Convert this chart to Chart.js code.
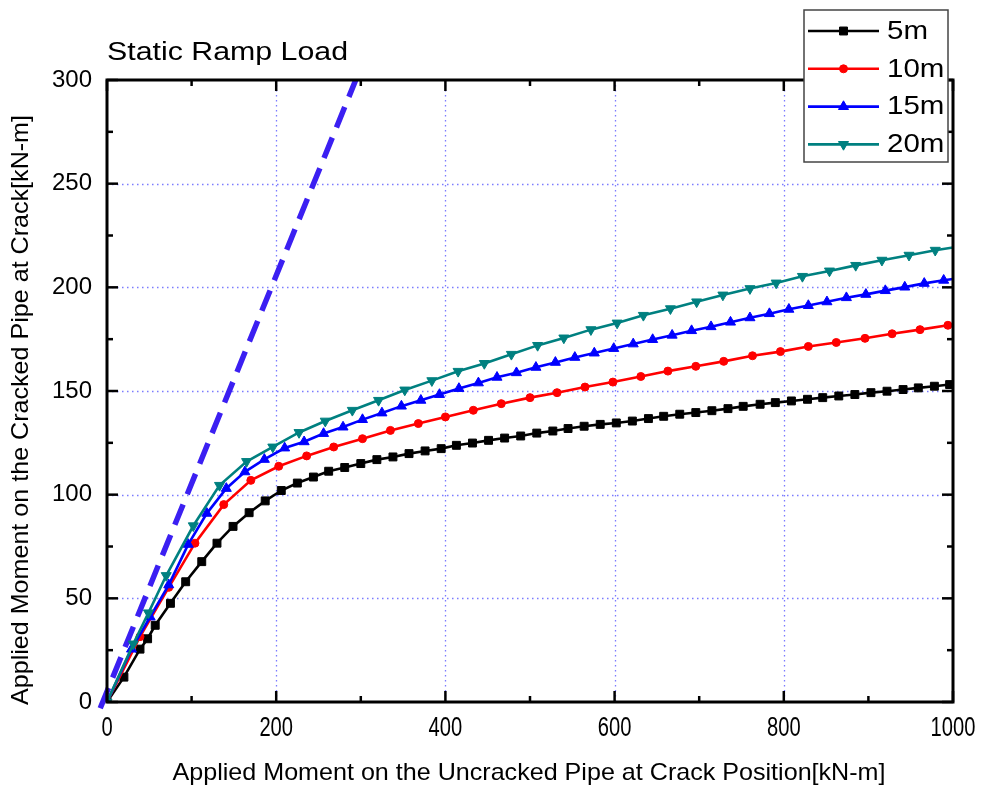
<!DOCTYPE html>
<html>
<head>
<meta charset="utf-8">
<script src="https://cdn.jsdelivr.net/npm/chart.js@4.4.1/dist/chart.umd.min.js"></script>
<style>
  html, body { margin: 0; padding: 0; background: #fff; }
  canvas { display: block; }
</style>
</head>
<body>
<canvas id="chart" width="987" height="788"></canvas>
<script>
// crack depth series, applied moment (uncracked) vs moment at crack
const seriesNames = ['5m', '10m', '15m', '20m'];

const x5 = [0, 20, 39, 48, 57, 75, 93, 112, 130, 149, 168, 187, 206, 225, 244, 262, 281, 300, 319, 338,
  357, 376, 395, 413, 432, 451, 470, 489, 508, 527, 545, 564, 583, 602, 621, 640, 658, 677, 696, 715,
  734, 752, 772, 790, 809, 828, 846, 865, 884, 903, 922, 941, 959, 978, 996, 1000];
const y5 = [0, 12, 25.5, 30.5, 37, 47.6, 58, 67.7, 76.6, 84.7, 91.3, 97, 102, 105.6, 108.5, 111.3, 113.1, 115, 116.9, 118.2,
  119.8, 121.1, 122.2, 123.8, 124.9, 126.2, 127.3, 128.3, 129.7, 130.7, 131.9, 133, 133.9, 134.6, 135.5, 136.7, 137.8, 138.8, 139.6, 140.5,
  141.5, 142.6, 143.6, 144.4, 145.2, 146, 146.8, 147.6, 148.3, 149.2, 149.9, 150.7, 151.5, 152.3, 153.1, 153.3];

const x10 = [0, 39, 73, 104, 138, 170, 203, 236, 268, 302, 335, 368, 400, 433, 466, 500, 532, 565, 598, 631,
  663, 696, 729, 763, 796, 829, 862, 896, 928, 961, 994, 1000];
const y10 = [0, 31.5, 55.3, 76.6, 95.2, 106.9, 113.7, 118.7, 123, 127, 131, 134.3, 137.5, 140.7, 143.9, 146.8, 149.2, 151.9, 154.3, 157,
  159.6, 161.9, 164.3, 167, 169, 171.5, 173.4, 175.4, 177.6, 179.6, 181.7, 182];

const x15 = [0, 29, 51, 73, 96, 118, 141, 163, 186, 210, 233, 256, 279, 302, 325, 348, 371, 393, 416, 439,
  461, 484, 507, 530, 553, 576, 599, 622, 645, 668, 691, 714, 737, 760, 783, 806, 829, 851, 874, 897,
  920, 943, 966, 989, 1000];
const y15 = [0, 25.5, 41, 56.5, 76, 91, 103, 111, 117, 122.5, 125.5, 129.5, 132.6, 136.2, 139.4, 142.7, 145.5, 148.3, 151.2, 153.9,
  156.6, 158.8, 161.4, 163.8, 166.2, 168.3, 170.5, 172.7, 174.8, 176.9, 179.1, 181, 183.2, 185.3, 187.3, 189.4, 191.2, 193, 195, 196.6,
  198.4, 200.1, 201.9, 203.4, 204];

const x20 = [0, 31, 49, 70, 102, 133, 165, 196, 227, 258, 290, 321, 352, 384, 415, 446, 478, 509, 540, 572,
  603, 634, 666, 697, 728, 760, 791, 822, 854, 885, 916, 948, 979, 1000];
const y20 = [0, 28, 43, 61, 85, 104.5, 116, 123, 130, 135.5, 140.7, 145.5, 150.5, 155, 159.5, 163.3, 167.7, 172, 175.6, 179.6,
  182.8, 186.5, 189.7, 193, 196.3, 199.4, 202.1, 205.3, 207.9, 210.6, 213.1, 215.5, 217.9, 219.2];

// uncracked reference (dashed)
const refX = [-8, 294];
const refY = [-3, 300];

const xTicks = [0, 200, 400, 600, 800, 1000];
const yTicks = [0, 50, 100, 150, 200, 250, 300];
const xMinor = [100, 300, 500, 700, 900];
const yMinor = [25, 75, 125, 175, 225, 275];

const FONT = '"Liberation Sans", Arial, sans-serif';

const styles = [
  { color: '#000000', pointStyle: 'rect', radius: 5.6, rotation: 0 },
  { color: '#ff0000', pointStyle: 'circle', radius: 4, rotation: 0 },
  { color: '#0000ff', pointStyle: 'triangle', radius: 5.8, rotation: 0 },
  { color: '#008080', pointStyle: 'triangle', radius: 5.8, rotation: 180 }
];

const toPoints = (xs, ys) => xs.map((x, i) => ({ x, y: ys[i] }));
const allX = [x5, x10, x15, x20];
const allY = [y5, y10, y15, y20];

const datasets = seriesNames.map((name, i) => {
  const st = styles[i];
  const n = allX[i].length;
  return {
    label: name,
    data: toPoints(allX[i], allY[i]),
    showLine: true,
    borderColor: st.color,
    backgroundColor: st.color,
    pointBackgroundColor: st.color,
    pointBorderColor: st.color,
    borderWidth: 2.6,
    pointStyle: st.pointStyle,
    pointRotation: st.rotation,
    pointBorderWidth: 1,
    pointRadius: ctx => ctx.dataIndex === n - 1 ? 0 : st.radius,
    tension: 0,
    order: 3 - i
  };
});

datasets.push({
  label: 'ref',
  data: toPoints(refX, refY),
  showLine: true,
  borderColor: '#3b1ff2',
  borderWidth: 5.5,
  borderDash: [22, 11],
  pointRadius: 0,
  clip: false,
  order: 10
});

// draws text squeezed/stretched to a given width
function fitText(ctx, text, x, y, font, width, align, rot) {
  ctx.save();
  ctx.font = font;
  const w = ctx.measureText(text).width;
  ctx.translate(x, y);
  if (rot) ctx.rotate(rot);
  ctx.scale(width / w, 1);
  ctx.textAlign = align || 'center';
  ctx.textBaseline = 'middle';
  ctx.fillStyle = '#000';
  ctx.fillText(text, 0, 0);
  ctx.restore();
}

const framePlugin = {
  id: 'frame',
  beforeDatasetsDraw(chart) {
    const { ctx, chartArea: a, scales: { x, y } } = chart;
    ctx.save();
    ctx.strokeStyle = '#7b7bff';
    ctx.lineWidth = 1.3;
    ctx.setLineDash([1.5, 3.5]);
    xTicks.slice(1, -1).forEach(v => {
      const px = Math.round(x.getPixelForValue(v)) + 0.5;
      ctx.beginPath(); ctx.moveTo(px, a.top); ctx.lineTo(px, a.bottom); ctx.stroke();
    });
    yTicks.slice(1, -1).forEach(v => {
      const py = Math.round(y.getPixelForValue(v)) + 0.5;
      ctx.beginPath(); ctx.moveTo(a.left, py); ctx.lineTo(a.right, py); ctx.stroke();
    });
    ctx.restore();
  },
  afterDatasetsDraw(chart) {
    const { ctx, chartArea: a, scales: { x, y } } = chart;
    ctx.save();
    ctx.strokeStyle = '#000';
    ctx.lineWidth = 3;
    ctx.lineCap = 'square';
    ctx.strokeRect(a.left, a.top, a.right - a.left, a.bottom - a.top);
    ctx.lineWidth = 2.5;
    ctx.lineCap = 'butt';
    const tick = (x1, y1, x2, y2) => { ctx.beginPath(); ctx.moveTo(x1, y1); ctx.lineTo(x2, y2); ctx.stroke(); };
    const xt = (vals, len) => vals.forEach(v => {
      const px = x.getPixelForValue(v);
      tick(px, a.bottom, px, a.bottom - len);
      tick(px, a.top, px, a.top + len);
    });
    const yt = (vals, len) => vals.forEach(v => {
      const py = y.getPixelForValue(v);
      tick(a.left, py, a.left + len, py);
      tick(a.right, py, a.right - len, py);
    });
    xt(xTicks, 11); xt(xMinor, 6);
    yt(yTicks, 11); yt(yMinor, 6);
    ctx.restore();

    // condensed x tick labels
    ctx.save();
    ctx.font = '28px ' + FONT;
    xTicks.forEach(v => {
      const s = String(v);
      const w = ctx.measureText(s).width;
      fitText(ctx, s, x.getPixelForValue(v), a.bottom + 26, '28px ' + FONT, w * 0.72);
    });
    ctx.restore();
  },
  afterDraw(chart) {
    const { ctx, chartArea: a } = chart;
    // title and axis titles
    fitText(ctx, 'Static Ramp Load', a.left, 53, '25px ' + FONT, 241, 'left');
    fitText(ctx, 'Applied Moment on the Uncracked Pipe at Crack Position[kN-m]', 529, 773, '24px ' + FONT, 713);
    fitText(ctx, 'Applied Moment on the Cracked Pipe at Crack[kN-m]', 21, 410, '24px ' + FONT, 590, 'center', -Math.PI / 2);

    // legend box
    ctx.save();
    ctx.fillStyle = '#fff';
    ctx.fillRect(804, 10, 144, 152);
    ctx.strokeStyle = '#444';
    ctx.lineWidth = 1.5;
    ctx.strokeRect(804, 10, 144, 152);
    seriesNames.forEach((name, i) => {
      const st = styles[i];
      const cy = 31 + i * 37.8;
      ctx.strokeStyle = st.color;
      ctx.lineWidth = 2.6;
      ctx.beginPath(); ctx.moveTo(808, cy); ctx.lineTo(879, cy); ctx.stroke();
      ctx.fillStyle = st.color;
      ctx.lineWidth = 1;
      Chart.helpers.drawPoint(ctx, { pointStyle: st.pointStyle, rotation: st.rotation, radius: st.radius, borderWidth: 1 }, 843.5, cy);
      ctx.font = '25px ' + FONT;
      const w = ctx.measureText(name).width;
      fitText(ctx, name, 887, cy + 1, '25px ' + FONT, w * 1.18, 'left');
    });
    ctx.restore();
  }
};

new Chart(document.getElementById('chart'), {
  type: 'scatter',
  data: { datasets },
  options: {
    responsive: false,
    animation: false,
    events: [],
    layout: { padding: { top: 80, right: 34, left: 0, bottom: 0 } },
    plugins: { legend: { display: false }, tooltip: { enabled: false } },
    scales: {
      x: {
        type: 'linear',
        min: 0,
        max: 1000,
        afterBuildTicks: s => { s.ticks = xTicks.map(v => ({ value: v })); },
        afterFit: s => { s.height = 86; },
        grid: { display: false },
        border: { display: false },
        ticks: { display: false }
      },
      y: {
        type: 'linear',
        min: 0,
        max: 300,
        afterBuildTicks: s => { s.ticks = yTicks.map(v => ({ value: v })); },
        afterFit: s => { s.width = 107; },
        grid: { display: false },
        border: { display: false },
        ticks: { color: '#000', font: { family: FONT, size: 24 }, padding: 7, autoSkip: false }
      }
    }
  },
  plugins: [framePlugin]
});
</script>
</body>
</html>
